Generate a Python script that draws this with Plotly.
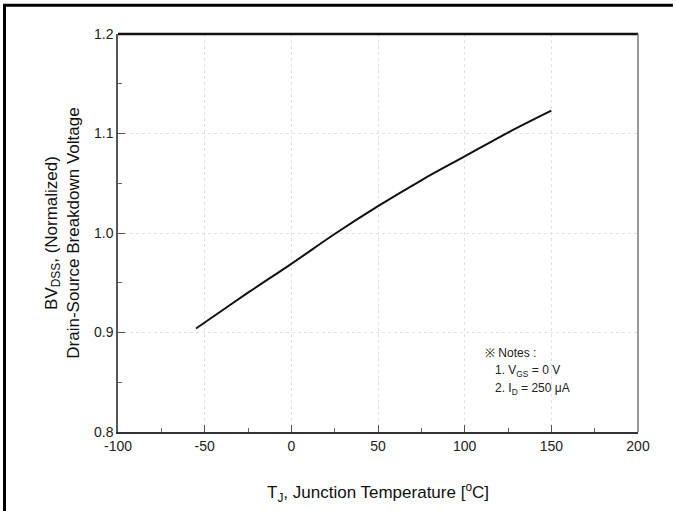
import plotly.graph_objects as go

temps = [-55, -50, -25, 0, 25, 50, 75, 100, 125, 150]
bv_norm = [0.904, 0.910, 0.940, 0.969, 0.999, 1.027, 1.053, 1.077, 1.101, 1.123]

x_ticks = [-100, -50, 0, 50, 100, 150, 200]
x_tick_text = ["-100", "-50", "0", "50", "100", "150", "200"]
y_ticks = [0.8, 0.9, 1.0, 1.1, 1.2]
y_tick_text = ["0.8", "0.9", "1.0", "1.1", "1.2"]

FONT = "Liberation Sans, Arial, sans-serif"

fig = go.Figure()
fig.add_trace(go.Scatter(x=temps, y=bv_norm, mode="lines",
                         line=dict(color="#111111", width=2, shape="spline"),
                         showlegend=False, hoverinfo="skip"))

W, H = 676, 511
L, R, T, B = 118, 38, 34, 77
pw, ph = W - L - R, H - T - B

def px(xp):
    return (xp - L) / pw

def py(yp):
    return (H - B - yp) / ph

fig.update_layout(
    width=W, height=H,
    margin=dict(l=L, r=R, t=T, b=B),
    paper_bgcolor="white", plot_bgcolor="white",
    font=dict(family=FONT, color="#222222"),
    xaxis=dict(range=[-100, 200], tickvals=x_ticks, ticktext=x_tick_text, ticks="inside", ticklen=7,
               tickcolor="#555555", tickwidth=1.2,
               showline=True, linecolor="#333333", linewidth=1.5, mirror=False,
               showgrid=True, gridcolor="#e0e0e0", griddash="dot", gridwidth=1,
               zeroline=False, tickfont=dict(size=14, color="#222222"),
               minor=dict(dtick=25, tick0=0, ticks="inside", ticklen=4, tickcolor="#666666", showgrid=False),
               title=dict(text="T<sub>J</sub>, Junction Temperature [<sup>o</sup>C]",
                          font=dict(size=17, color="#111111"), standoff=34)),
    yaxis=dict(range=[0.8, 1.2], tickvals=y_ticks, ticktext=y_tick_text,
               ticks="inside", ticklen=7, tickcolor="#555555", tickwidth=1.2,
               showline=True, linecolor="#555555", linewidth=1.5,
               showgrid=True, gridcolor="#e0e0e0", griddash="dot", gridwidth=1,
               zeroline=False, tickfont=dict(size=14, color="#222222"),
               minor=dict(dtick=0.05, tick0=0.8, ticks="inside", ticklen=4, tickcolor="#666666", showgrid=False),
               title=dict(text="BV<sub>DSS</sub>, (Normalized)<br>Drain-Source Breakdown Voltage",
                          font=dict(size=17, color="#111111"), standoff=10)),
    shapes=[
        dict(type="line", xref="paper", yref="paper", x0=0, x1=1, y0=1, y1=1,
             line=dict(color="#111111", width=2.5)),
        dict(type="line", xref="paper", yref="paper", x0=1, x1=1, y0=0, y1=1,
             line=dict(color="#777777", width=1.5)),
        dict(type="line", xref="paper", yref="paper", x0=px(3), x1=px(673), y0=py(5), y1=py(5),
             line=dict(color="#000000", width=3)),
        dict(type="line", xref="paper", yref="paper", x0=px(4.5), x1=px(4.5), y0=py(4), y1=py(515),
             line=dict(color="#000000", width=3)),
    ],
    annotations=[
        dict(xref="paper", yref="paper", x=px(483), y=py(355), xanchor="left", yanchor="middle",
             text="※ Notes :", showarrow=False, font=dict(size=12, color="#222222")),
        dict(xref="paper", yref="paper", x=px(493), y=py(373), xanchor="left", yanchor="middle",
             text="1. V<sub>GS</sub> = 0 V", showarrow=False, font=dict(size=12, color="#222222")),
        dict(xref="paper", yref="paper", x=px(493), y=py(391), xanchor="left", yanchor="middle",
             text="2. I<sub>D</sub> = 250 μA", showarrow=False, font=dict(size=12, color="#222222")),
    ],
)

fig.write_html("out.html", config={"displayModeBar": False})
with open("out.html", "r", encoding="utf-8") as f:
    html = f.read()
html = html.replace("<body>", '<body style="margin:0;padding:0;overflow:hidden">', 1)
with open("out.html", "w", encoding="utf-8") as f:
    f.write(html)
